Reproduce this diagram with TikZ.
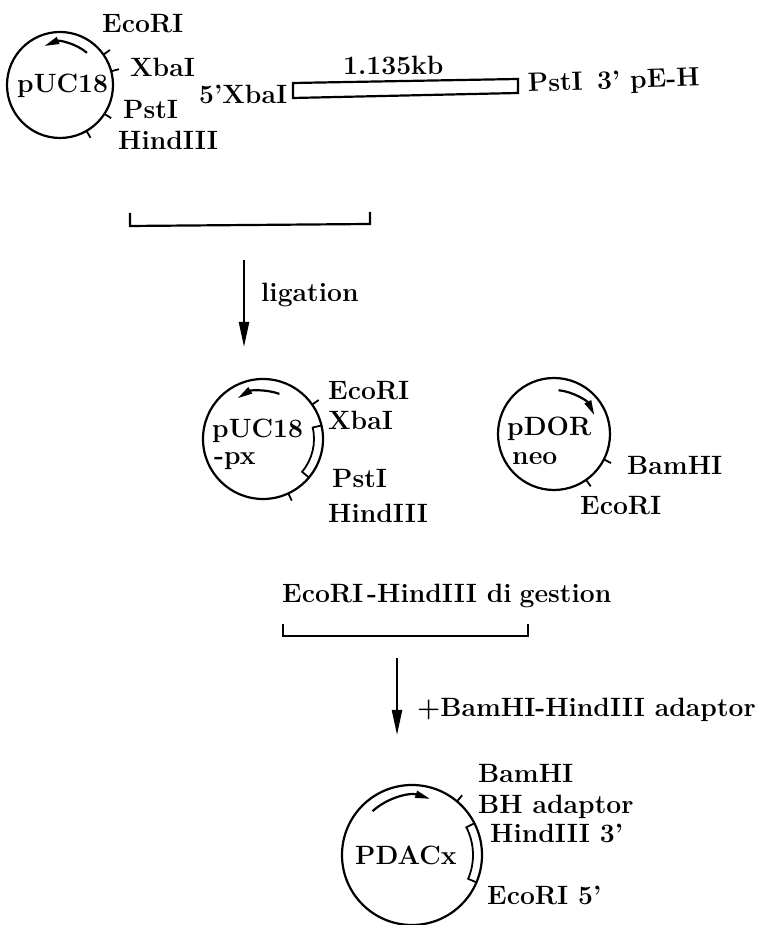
\documentclass[tikz,border=0pt]{standalone}
\usetikzlibrary{calc,arrows.meta}
\begin{document}
\begin{tikzpicture}[x=1pt,y=1pt,
  lbl/.style={inner sep=0pt,anchor=base west,font=\fontsize{26.5}{30}\selectfont\bfseries},
  plasmid/.style={draw,line width=2.2pt},
  tick/.style={line width=1.8pt},
  arcarrow/.style={line width=2.2pt,-{Triangle[length=15pt,width=7pt]}},
  steparrow/.style={line width=2.2pt,-{Triangle[length=25pt,width=10pt]}},
  brk/.style={line width=2.2pt}]
\useasboundingbox (0,0) rectangle (762,925);
% ---------- pUC18 (top left)
\coordinate (A) at (60,840);
\draw[plasmid] (A) circle[radius=53];
\draw[arcarrow] ($(A)+(50:42)$) arc[start angle=50,end angle=112,radius=42];
\foreach \a in {35,15,-33,-60} \draw[tick] ($(A)+(\a:53)$) -- ($(A)+(\a:61)$);
\node[lbl] (a0) at (17,832) {pUC18};
\node[lbl] (a1) at (102,892) {EcoRI};
\node[lbl] (a2) at (130,848) {XbaI};
\node[lbl] (a3) at (123,806) {PstI};
\node[lbl] (a4) at (118,775) {HindIII};
% ---------- fragment
\node[lbl] (f0) at (199,821) {5’XbaI};
\draw[line width=2.2pt] (293,842) -- (518,846) -- (518,832) -- (293,827) -- cycle;
\node[lbl] (f1) at (343,850) {1.135kb};
\node[lbl,rotate=2] (f2) at (528,833) {PstI\, 3’ pE-H};
% ---------- bracket 1 and ligation arrow
\draw[brk] (130,712) -- (130,699) -- (370,701) -- (370,713);
\coordinate (l1) at (244,665);
\coordinate (l2) at (244,578);
\draw[steparrow] (l1) -- (l2);
\node[lbl] (lig) at (261,623) {ligation};
% ---------- pUC18-px
\coordinate (B) at (263,486);
\draw[plasmid] (B) circle[radius=60];
\draw[arcarrow] ($(B)+(70:48)$) arc[start angle=70,end angle=122,radius=48];
\draw[line width=1.8pt] ($(B)+(13:60)$) -- ($(B)+(13:51)$) arc[start angle=13,end angle=-40,radius=51] -- ($(B)+(-40:60)$);
\foreach \a in {35,-65} \draw[tick] ($(B)+(\a:60)$) -- ($(B)+(\a:68)$);
\node[lbl] (b0) at (212,487) {pUC18};
\node[lbl] (b5) at (214,460) {-px};
\node[lbl] (b1) at (328,525) {EcoRI};
\node[lbl] (b2) at (328,495) {XbaI};
\node[lbl] (b3) at (332,437) {PstI};
\node[lbl] (b4) at (328,402) {HindIII};
% ---------- pDOR neo
\coordinate (C) at (554,491);
\draw[plasmid] (C) circle[radius=56];
\draw[arcarrow] ($(C)+(84:44)$) arc[start angle=84,end angle=26,radius=45];
\foreach \a in {-27,-55} \draw[tick] ($(C)+(\a:56)$) -- ($(C)+(\a:64)$);
\node[lbl] (c0) at (507,489) {pDOR};
\node[lbl] (c3) at (512,460) {neo};
\node[lbl] (c1) at (627,450) {BamHI};
\node[lbl] (c2) at (580,410) {EcoRI};
% ---------- digestion
\node[lbl] (dig) at (282,322) {EcoRI\hspace{4pt}-HindIII di\hspace{8pt}gestion};
\draw[brk] (283,301) -- (283,289) -- (528,289) -- (528,301);
\coordinate (m1) at (397,267);
\coordinate (m2) at (397,190);
\draw[steparrow] (m1) -- (m2);
\node[lbl] (ad) at (417,208) {+BamHI-HindIII adaptor};
% ---------- PDACx
\coordinate (D) at (412,70);
\draw[plasmid] (D) circle[radius=70];
\draw[arcarrow] ($(D)+(132:59)$) arc[start angle=132,end angle=72,radius=59];
\draw[line width=1.8pt] ($(D)+(27:70)$) -- ($(D)+(27:61)$) arc[start angle=27,end angle=-23,radius=61] -- ($(D)+(-23:70)$);
\draw[tick] ($(D)+(50:70)$) -- ($(D)+(50:78)$);
\node[lbl] (d0) at (355,60) {PDACx};
\node[lbl] (d1) at (478,142) {BamHI};
\node[lbl] (d2) at (478,111) {BH adaptor};
\node[lbl] (d3) at (490,82) {HindIII 3’};
\node[lbl] (d4) at (487,20) {EcoRI 5’};
\end{tikzpicture}
\end{document}
